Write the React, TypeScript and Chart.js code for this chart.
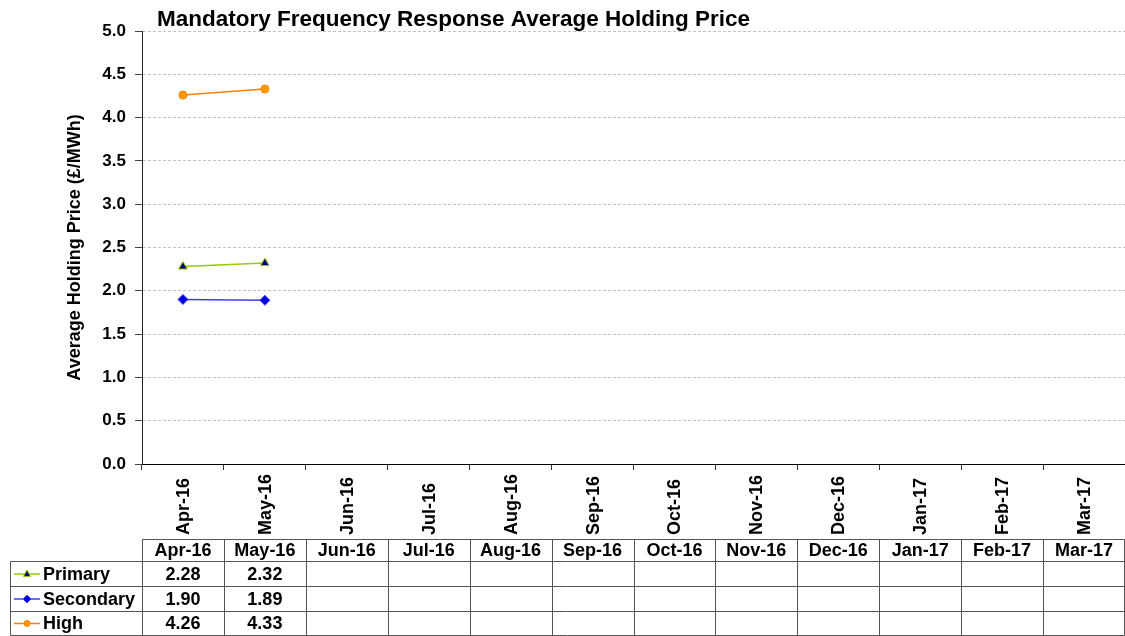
import React, { useEffect, useRef } from "react";
import { Chart, registerables } from "chart.js";

Chart.register(...registerables);

const chartTitle = "Mandatory Frequency Response Average Holding Price";
const yAxisTitle = "Average Holding Price (£/MWh)";
const categories = [
  "Apr-16", "May-16", "Jun-16", "Jul-16", "Aug-16", "Sep-16",
  "Oct-16", "Nov-16", "Dec-16", "Jan-17", "Feb-17", "Mar-17",
];
const primaryValues: (number | null)[] = [2.28, 2.32, null, null, null, null, null, null, null, null, null, null];
const secondaryValues: (number | null)[] = [1.9, 1.89, null, null, null, null, null, null, null, null, null, null];
const highValues: (number | null)[] = [4.26, 4.33, null, null, null, null, null, null, null, null, null, null];
const seriesNames = ["Primary", "Secondary", "High"];

const FONT = '"Liberation Sans", Arial, sans-serif';

const seriesStyles = [
  { line: "#99cc00", fill: "#000080", point: "triangle", radius: 5 },
  { line: "#3c3cff", fill: "#0000dd", point: "rectRot", radius: 5 },
  { line: "#ff8000", fill: "#ff9900", point: "circle", radius: 4 },
];

function drawMarker(ctx: CanvasRenderingContext2D, kind: string, x: number, y: number, r: number, fill: string, stroke: string) {
  ctx.save();
  ctx.fillStyle = fill;
  ctx.strokeStyle = stroke;
  ctx.lineWidth = 1;
  ctx.beginPath();
  if (kind === "triangle") {
    ctx.moveTo(x, y - r);
    ctx.lineTo(x + r * 0.9, y + r * 0.6);
    ctx.lineTo(x - r * 0.9, y + r * 0.6);
    ctx.closePath();
  } else if (kind === "rectRot") {
    ctx.moveTo(x, y - r);
    ctx.lineTo(x + r, y);
    ctx.lineTo(x, y + r);
    ctx.lineTo(x - r, y);
    ctx.closePath();
  } else {
    ctx.arc(x, y, r, 0, Math.PI * 2);
  }
  ctx.fill();
  ctx.stroke();
  ctx.restore();
}

const tablePlugin = {
  id: "dataTable",
  afterDraw(chart: any) {
    const ctx: CanvasRenderingContext2D = chart.ctx;
    const xs = chart.scales.x;
    const area = chart.chartArea;
    const w = xs.getPixelForValue(1) - xs.getPixelForValue(0);
    const left = area.left;
    const right = chart.width - 0.5;
    ctx.save();
    // title
    ctx.fillStyle = "#000";
    ctx.font = `bold 22.5px ${FONT}`;
    ctx.textAlign = "left";
    ctx.textBaseline = "alphabetic";
    ctx.fillText(chartTitle, 157, 26);

    // rotated category labels
    ctx.font = `bold 18px ${FONT}`;
    categories.forEach((c, i) => {
      const cx = xs.getPixelForValue(i);
      ctx.save();
      ctx.translate(cx, 535);
      ctx.rotate(-Math.PI / 2);
      ctx.textAlign = "left";
      ctx.textBaseline = "middle";
      ctx.fillText(c, 0, 1);
      ctx.restore();
    });

    // table grid
    const rowsY = [539.5, 561.5, 586.5, 611.5, 635.5];
    const tableLeft = 10.5;
    ctx.strokeStyle = "#555";
    ctx.lineWidth = 1;
    ctx.beginPath();
    ctx.moveTo(left, rowsY[0]);
    ctx.lineTo(right, rowsY[0]);
    for (let r = 1; r < rowsY.length; r++) {
      ctx.moveTo(tableLeft, rowsY[r]);
      ctx.lineTo(right, rowsY[r]);
    }
    for (let i = 0; i <= categories.length; i++) {
      let x = Math.round(left + i * w) + 0.5;
      if (x > right) x = right;
      ctx.moveTo(x, rowsY[0]);
      ctx.lineTo(x, rowsY[4]);
    }
    ctx.moveTo(tableLeft, rowsY[1]);
    ctx.lineTo(tableLeft, rowsY[4]);
    ctx.stroke();

    // header text
    ctx.fillStyle = "#000";
    ctx.font = `bold 18px ${FONT}`;
    ctx.textAlign = "center";
    ctx.textBaseline = "middle";
    categories.forEach((c, i) => {
      ctx.fillText(c, xs.getPixelForValue(i), (rowsY[0] + rowsY[1]) / 2 + 1);
    });

    const series = [primaryValues, secondaryValues, highValues];
    series.forEach((vals, r) => {
      const cy = (rowsY[r + 1] + rowsY[r + 2]) / 2 + 1;
      vals.forEach((v, i) => {
        if (v === null) return;
        ctx.fillText(v.toFixed(2), xs.getPixelForValue(i), cy);
      });
      // legend key
      const st = seriesStyles[r];
      ctx.save();
      ctx.strokeStyle = st.line;
      ctx.lineWidth = 1.5;
      ctx.beginPath();
      ctx.moveTo(14, cy - 1);
      ctx.lineTo(40, cy - 1);
      ctx.stroke();
      ctx.restore();
      drawMarker(ctx, st.point, 27, cy - 1, st.radius - 1, st.fill, st.line);
      ctx.textAlign = "left";
      ctx.fillText(seriesNames[r], 43, cy);
      ctx.textAlign = "center";
    });
    ctx.restore();
  },
};

export default function App() {
  const canvasRef = useRef<HTMLCanvasElement | null>(null);

  useEffect(() => {
    document.body.style.margin = "0";
    const canvas = canvasRef.current;
    if (!canvas) return;
    const valuesList = [primaryValues, secondaryValues, highValues];
    const chart = new Chart(canvas, {
      type: "line",
      data: {
        labels: categories,
        datasets: valuesList.map((vals, i) => ({
          label: seriesNames[i],
          data: vals,
          borderColor: seriesStyles[i].line,
          backgroundColor: seriesStyles[i].fill,
          pointBackgroundColor: seriesStyles[i].fill,
          pointBorderColor: seriesStyles[i].line,
          pointBorderWidth: 1,
          pointStyle: seriesStyles[i].point as any,
          pointRadius: seriesStyles[i].radius,
          borderWidth: 1.5,
          fill: false,
          tension: 0,
        })),
      },
      options: {
        responsive: false,
        animation: false,
        devicePixelRatio: 1,
        layout: { autoPadding: false, padding: { left: 60, top: 31, right: 0, bottom: 0 } },
        plugins: {
          legend: { display: false },
          title: { display: false },
          tooltip: { enabled: false },
        },
        scales: {
          x: {
            type: "category",
            offset: true,
            ticks: { display: false },
            grid: { offset: true, drawOnChartArea: false, tickLength: 6, color: "#333", tickColor: "#333" },
            border: { color: "#000", width: 1 },
            afterFit(s: any) {
              s.height = 172;
              s.paddingLeft = 0;
              s.paddingRight = 0;
            },
          },
          y: {
            min: 0,
            max: 5,
            ticks: {
              stepSize: 0.5,
              callback: (v: any) => Number(v).toFixed(1),
              font: { family: FONT, size: 17, weight: "bold" },
              color: "#000",
              padding: 9,
            },
            grid: {
              color: "#c4c4c4",
              tickColor: "#444",
              tickLength: 7,
              tickBorderDash: [],
            },
            border: { color: "#222", width: 1, dash: [3, 2] },
            title: {
              display: true,
              text: yAxisTitle,
              color: "#000",
              font: { family: FONT, size: 18, weight: "bold" },
              padding: { top: 4, bottom: 0 },
            },
            afterFit(s: any) {
              s.width = 82;
              s.paddingTop = 0;
              s.paddingBottom = 0;
            },
          },
        },
      },
      plugins: [tablePlugin],
    } as any);
    return () => chart.destroy();
  }, []);

  return (
    <div style={{ position: "absolute", left: 0, top: 0, width: 1125, height: 636 }}>
      <canvas ref={canvasRef} width={1125} height={636} style={{ display: "block" }} />
    </div>
  );
}
